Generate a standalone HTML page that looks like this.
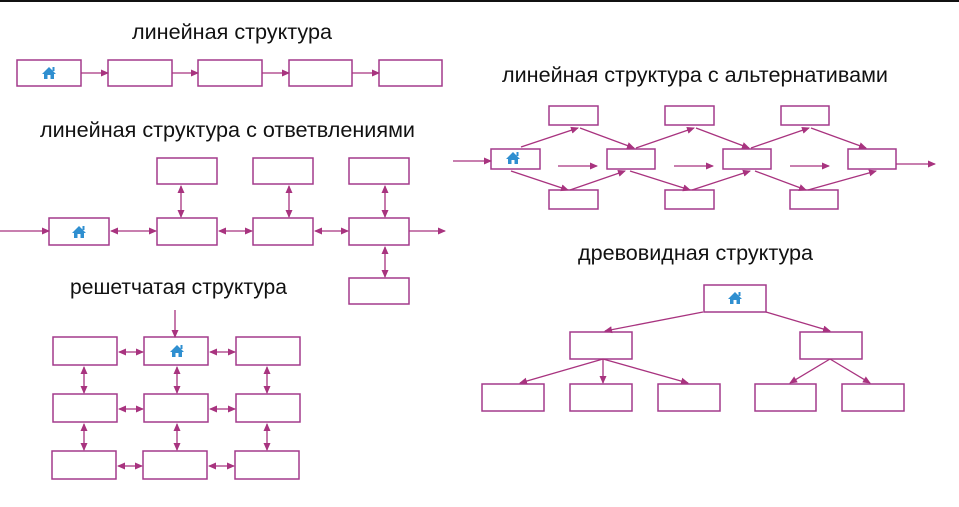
<!DOCTYPE html>
<html><head><meta charset="utf-8"><style>
html,body{margin:0;padding:0;background:#fff;width:959px;height:507px;overflow:hidden}
svg text{font-family:"Liberation Sans",sans-serif;font-size:21px;fill:#111}
</style></head><body>
<svg width="959" height="507" viewBox="0 0 959 507" xmlns="http://www.w3.org/2000/svg">
<defs>
<marker id="a" markerWidth="8" markerHeight="8" refX="7" refY="4" orient="auto" markerUnits="userSpaceOnUse"><path d="M0,0.5 L8,4 L0,7.5 Z" fill="#a8337f"/></marker>
<marker id="s" markerWidth="8" markerHeight="8" refX="1" refY="4" orient="auto" markerUnits="userSpaceOnUse"><path d="M8,0.5 L0,4 L8,7.5 Z" fill="#a8337f"/></marker>
<g id="h"><path d="M0,-6 L-7,1 L-5,1 L-5,6 L-1.5,6 L-1.5,2 L1.5,2 L1.5,6 L5,6 L5,1 L7,1 Z" fill="#2f8fd0"/><rect x="3.5" y="-6" width="2" height="4" fill="#2f8fd0"/></g>
</defs>
<rect x="0" y="0" width="959" height="2" fill="#111"/>
<g fill="none" stroke="#a33a8c" stroke-width="1.5">
<rect x="17" y="60" width="64" height="26"/><rect x="108" y="60" width="64" height="26"/><rect x="198" y="60" width="64" height="26"/><rect x="289" y="60" width="63" height="26"/><rect x="379" y="60" width="63" height="26"/>
<rect x="49" y="218" width="60" height="27"/><rect x="157" y="218" width="60" height="27"/><rect x="253" y="218" width="60" height="27"/><rect x="349" y="218" width="60" height="27"/>
<rect x="157" y="158" width="60" height="26"/><rect x="253" y="158" width="60" height="26"/><rect x="349" y="158" width="60" height="26"/><rect x="349" y="278" width="60" height="26"/>
<rect x="491" y="149" width="49" height="20"/>
<rect x="549" y="106" width="49" height="19"/><rect x="665" y="106" width="49" height="19"/><rect x="781" y="106" width="48" height="19"/>
<rect x="607" y="149" width="48" height="20"/><rect x="723" y="149" width="48" height="20"/><rect x="848" y="149" width="48" height="20"/>
<rect x="549" y="190" width="49" height="19"/><rect x="665" y="190" width="49" height="19"/><rect x="790" y="190" width="48" height="19"/>
<rect x="53" y="337" width="64" height="28"/><rect x="144" y="337" width="64" height="28"/><rect x="236" y="337" width="64" height="28"/>
<rect x="53" y="394" width="64" height="28"/><rect x="144" y="394" width="64" height="28"/><rect x="236" y="394" width="64" height="28"/>
<rect x="52" y="451" width="64" height="28"/><rect x="143" y="451" width="64" height="28"/><rect x="235" y="451" width="64" height="28"/>
<rect x="704" y="285" width="62" height="27"/>
<rect x="570" y="332" width="62" height="27"/><rect x="800" y="332" width="62" height="27"/>
<rect x="482" y="384" width="62" height="27"/><rect x="570" y="384" width="62" height="27"/><rect x="658" y="384" width="62" height="27"/><rect x="755" y="384" width="61" height="27"/><rect x="842" y="384" width="62" height="27"/>
</g>
<g fill="none" stroke="#a8337f" stroke-width="1.3" marker-end="url(#a)">
<line x1="81" y1="73" x2="108" y2="73"/><line x1="172" y1="73" x2="198" y2="73"/><line x1="262" y1="73" x2="289" y2="73"/><line x1="352" y1="73" x2="379" y2="73"/>
<line x1="0" y1="231" x2="49" y2="231"/><line x1="409" y1="231" x2="445" y2="231"/>
<line x1="453" y1="161" x2="491" y2="161"/><line x1="558" y1="166" x2="597" y2="166"/><line x1="674" y1="166" x2="713" y2="166"/><line x1="790" y1="166" x2="829" y2="166"/><line x1="896" y1="164" x2="935" y2="164"/>
<line x1="521" y1="147" x2="578" y2="128"/><line x1="580" y1="128" x2="634" y2="148"/><line x1="636" y1="148" x2="694" y2="128"/><line x1="696" y1="128" x2="749" y2="148"/><line x1="751" y1="148" x2="809" y2="128"/><line x1="811" y1="128" x2="866" y2="148"/>
<line x1="511" y1="171" x2="568" y2="190"/><line x1="570" y1="190" x2="625" y2="171"/><line x1="630" y1="171" x2="690" y2="190"/><line x1="692" y1="190" x2="750" y2="171"/><line x1="755" y1="171" x2="806" y2="190"/><line x1="808" y1="190" x2="876" y2="171"/>
<line x1="175" y1="310" x2="175" y2="337"/>
<line x1="703" y1="312" x2="605" y2="331"/><line x1="766" y1="312" x2="830" y2="331"/>
<line x1="603" y1="359" x2="520" y2="383"/><line x1="603" y1="359" x2="603" y2="383"/><line x1="603" y1="359" x2="688" y2="383"/>
<line x1="830" y1="359" x2="790" y2="383"/><line x1="830" y1="359" x2="870" y2="383"/>
</g>
<g fill="none" stroke="#a8337f" stroke-width="1.3" marker-end="url(#a)" marker-start="url(#s)">
<line x1="181" y1="186" x2="181" y2="217"/><line x1="289" y1="186" x2="289" y2="217"/><line x1="385" y1="186" x2="385" y2="217"/><line x1="385" y1="247" x2="385" y2="277"/>
<line x1="111" y1="231" x2="156" y2="231"/><line x1="219" y1="231" x2="252" y2="231"/><line x1="315" y1="231" x2="348" y2="231"/>
<line x1="119" y1="352" x2="143" y2="352"/><line x1="210" y1="352" x2="235" y2="352"/>
<line x1="119" y1="409" x2="143" y2="409"/><line x1="210" y1="409" x2="235" y2="409"/>
<line x1="118" y1="466" x2="142" y2="466"/><line x1="209" y1="466" x2="234" y2="466"/>
<line x1="84" y1="367" x2="84" y2="393"/><line x1="177" y1="367" x2="177" y2="393"/><line x1="267" y1="367" x2="267" y2="393"/>
<line x1="84" y1="424" x2="84" y2="450"/><line x1="177" y1="424" x2="177" y2="450"/><line x1="267" y1="424" x2="267" y2="450"/>
</g>
<use href="#h" x="49" y="73"/><use href="#h" x="79" y="232"/><use href="#h" x="513" y="158"/><use href="#h" x="177" y="351"/><use href="#h" x="735" y="298"/>
<text x="132" y="39" textLength="200" lengthAdjust="spacingAndGlyphs">линейная структура</text>
<text x="40" y="137" textLength="375" lengthAdjust="spacingAndGlyphs">линейная структура с ответвлениями</text>
<text x="70" y="294" textLength="217" lengthAdjust="spacingAndGlyphs">решетчатая структура</text>
<text x="502" y="82" textLength="386" lengthAdjust="spacingAndGlyphs">линейная структура с альтернативами</text>
<text x="578" y="260" textLength="235" lengthAdjust="spacingAndGlyphs">древовидная структура</text>
</svg>
</body></html>
